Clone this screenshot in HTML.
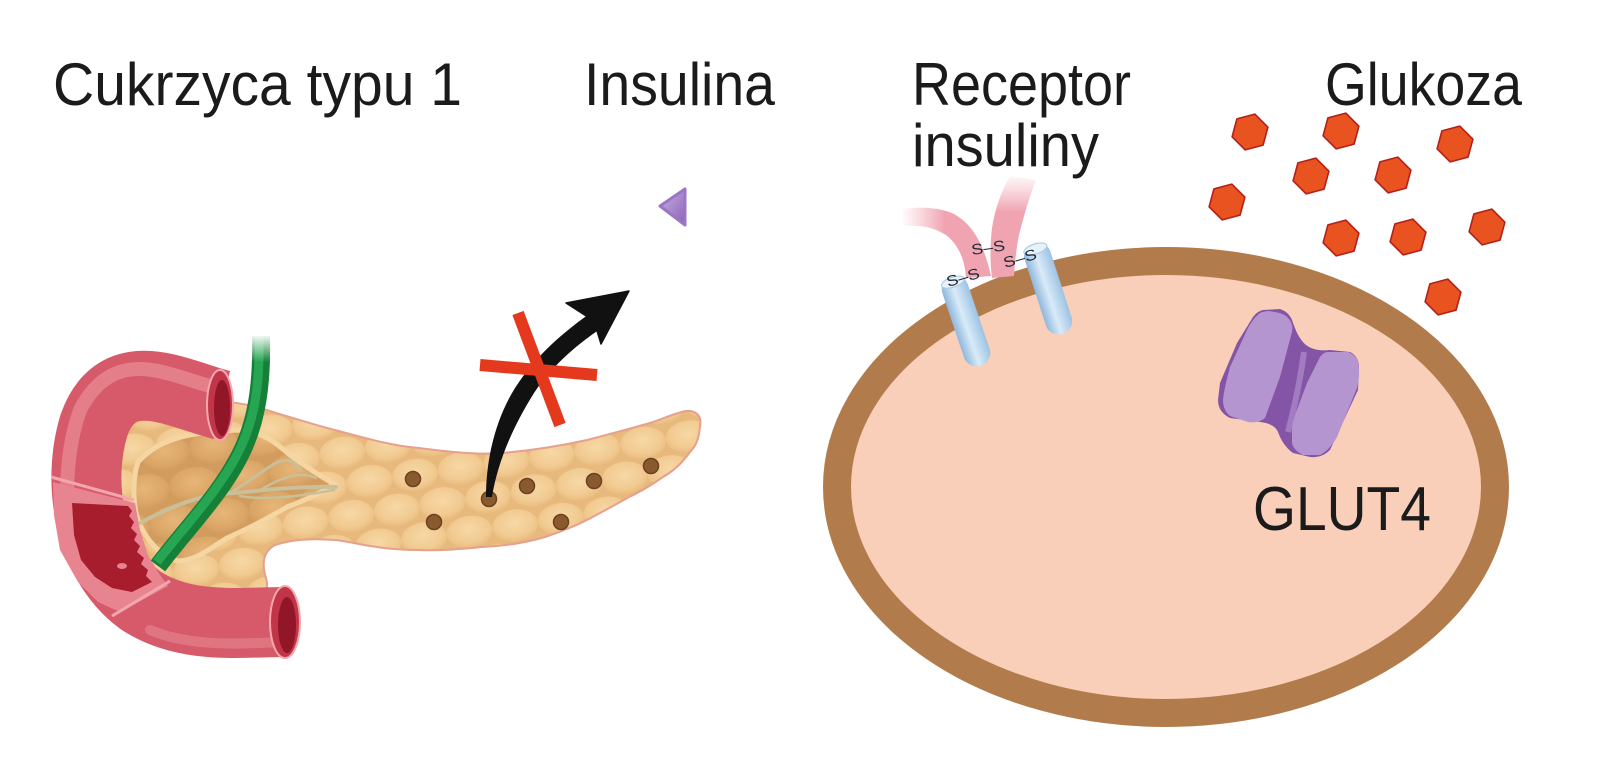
<!DOCTYPE html>
<html><head><meta charset="utf-8"><style>
html,body{margin:0;padding:0;background:#fff;}
svg{display:block;}
text{font-family:"Liberation Sans",sans-serif;fill:#1b1b1b;}
</style></head><body>
<svg width="1600" height="768" viewBox="0 0 1600 768" xmlns="http://www.w3.org/2000/svg">
<defs>
  <radialGradient id="lob" cx="50%" cy="42%" r="60%">
    <stop offset="0" stop-color="#f7d8a5"/>
    <stop offset="0.7" stop-color="#f1ca91"/>
    <stop offset="1" stop-color="#e9bb7e"/>
  </radialGradient>
  <pattern id="lobp" width="46" height="64" patternUnits="userSpaceOnUse" patternTransform="rotate(-8)">
    <rect width="46" height="64" fill="#e8b97c"/>
    <ellipse cx="23" cy="16" rx="23" ry="16" fill="url(#lob)"/>
    <ellipse cx="0" cy="48" rx="23" ry="16" fill="url(#lob)"/>
    <ellipse cx="46" cy="48" rx="23" ry="16" fill="url(#lob)"/>
  </pattern>
  <radialGradient id="lob2" cx="50%" cy="42%" r="60%">
    <stop offset="0" stop-color="#e6b678"/>
    <stop offset="0.7" stop-color="#dba667"/>
    <stop offset="1" stop-color="#cf9a5c"/>
  </radialGradient>
  <pattern id="lobp2" width="50" height="70" patternUnits="userSpaceOnUse" patternTransform="rotate(-8)">
    <rect width="50" height="70" fill="#d29c5e"/>
    <ellipse cx="25" cy="17" rx="25" ry="17.5" fill="url(#lob2)"/>
    <ellipse cx="0" cy="52" rx="25" ry="17.5" fill="url(#lob2)"/>
    <ellipse cx="50" cy="52" rx="25" ry="17.5" fill="url(#lob2)"/>
  </pattern>
  <clipPath id="pclip">
    <path id="pp" d="M 225 402 C 245 403, 262 408, 276 413 C 300 420, 318 426, 335 430 C 365 438, 392 446, 419 448 C 450 452, 478 455, 503 453 C 535 450, 560 446, 587 440 C 610 434, 632 428, 650 423 C 665 418, 675 413, 686 411 C 696 410, 702 416, 700 426 C 699 437, 697 445, 690 452 C 680 466, 670 473, 663 477 C 650 486, 640 492, 629 497 C 615 505, 600 513, 587 520 C 573 527, 560 532, 545 537 C 525 543, 505 546, 482 547 C 460 549, 440 551, 419 550 C 400 550, 390 549, 377 547 C 360 545, 348 541, 335 540 C 310 538, 290 540, 275 545 C 262 552, 262 565, 266 578 C 270 592, 262 604, 240 604 C 200 604, 150 596, 120 562 C 95 530, 95 460, 115 425 C 140 395, 200 400, 225 402 Z"/>
  </clipPath>
  <linearGradient id="cyl" x1="0" y1="0" x2="1" y2="0">
    <stop offset="0" stop-color="#8fb7dc"/>
    <stop offset="0.45" stop-color="#d9ebf8"/>
    <stop offset="1" stop-color="#9cc2e3"/>
  </linearGradient>
  <linearGradient id="armL" gradientUnits="userSpaceOnUse" x1="900" y1="0" x2="945" y2="0">
    <stop offset="0" stop-color="#f4b4bf" stop-opacity="0"/>
    <stop offset="1" stop-color="#f0a3b0"/>
  </linearGradient>
  <linearGradient id="armR" gradientUnits="userSpaceOnUse" x1="0" y1="172" x2="0" y2="212">
    <stop offset="0" stop-color="#f4b4bf" stop-opacity="0"/>
    <stop offset="1" stop-color="#f0a3b0"/>
  </linearGradient>
  <linearGradient id="tri" x1="0" y1="0" x2="1" y2="1">
    <stop offset="0" stop-color="#c8afe4"/>
    <stop offset="1" stop-color="#8c63b8"/>
  </linearGradient>
  <linearGradient id="gfade" gradientUnits="userSpaceOnUse" x1="0" y1="334" x2="0" y2="362">
    <stop offset="0" stop-color="#fff" stop-opacity="1"/>
    <stop offset="1" stop-color="#fff" stop-opacity="0"/>
  </linearGradient>
  <polygon id="hx" points="4.8,-17.9 17.9,-4.8 13.1,13.1 -4.8,17.9 -17.9,4.8 -13.1,-13.1" fill="#e8531f" stroke="#b41f1a" stroke-width="1.6" stroke-linejoin="round"/>
</defs>

<!-- Titles -->
<text x="53" y="105" font-size="60" textLength="409" lengthAdjust="spacingAndGlyphs">Cukrzyca typu 1</text>
<text x="584" y="105" font-size="60" textLength="191" lengthAdjust="spacingAndGlyphs">Insulina</text>
<text x="912" y="105" font-size="60" textLength="219" lengthAdjust="spacingAndGlyphs">Receptor</text>
<text x="912" y="166" font-size="60" textLength="187" lengthAdjust="spacingAndGlyphs">insuliny</text>
<text x="1325" y="105" font-size="60" textLength="197" lengthAdjust="spacingAndGlyphs">Glukoza</text>

<!-- Insulin triangle -->
<path d="M 660 206 L 685 189 L 685 225 Z" fill="url(#tri)" stroke="#9b76c4" stroke-width="3" stroke-linejoin="round"/>

<!-- Pancreas -->
<use href="#pp" fill="#efc388"/>
<g clip-path="url(#pclip)">
  <rect x="90" y="390" width="630" height="230" fill="url(#lobp)"/>
  <!-- head cavity -->
  <path d="M 138 462 C 158 440, 185 432, 240 430 C 262 432, 275 442, 290 455 C 305 466, 320 476, 334 484 C 318 495, 300 502, 287 507 C 265 520, 245 530, 227 538 C 210 548, 198 560, 178 561 C 160 556, 146 540, 138 520 C 133 505, 132 480, 138 462 Z" fill="url(#lobp2)" stroke="#f5d6a3" stroke-width="5"/>
</g>
<use href="#pp" fill="none" stroke="#e6a08d" stroke-width="2"/>

<!-- tan vessel -->
<g fill="none" stroke="#c9bf98" stroke-width="4" stroke-linecap="round">
  <path d="M 140 523 C 170 507, 200 494, 235 493 C 265 490, 300 486, 336 487"/>
  <path d="M 228 494 C 250 482, 262 470, 278 462 C 288 458, 296 462, 300 470" stroke-width="3"/>
  <path d="M 262 489 C 280 478, 300 470, 316 478" stroke-width="2.5"/>
  <path d="M 240 496 C 262 500, 290 498, 334 490" stroke-width="2.5"/>
</g>

<!-- Duodenum -->
<path d="M 222 405 C 180 395, 118 358, 94 425 C 77 480, 87 560, 140 600 C 185 630, 240 622, 285 622" fill="none" stroke="#d65a69" stroke-width="70"/>
<path d="M 210 386 C 170 376, 115 343, 80 410 C 66 450, 64 500, 72 530" fill="none" stroke="#ea8d97" stroke-width="14" stroke-linecap="round" opacity="0.7"/>
<path d="M 150 630 C 190 647, 240 644, 280 642" fill="none" stroke="#ea8d97" stroke-width="10" stroke-linecap="round" opacity="0.55"/>
<!-- cut section -->
<path d="M 53 482 L 135 503 L 140 530 L 148 555 L 160 575 L 168 586 L 120 612 L 98 602 L 78 582 L 60 550 L 54 515 Z" fill="#e8848f"/>
<path d="M 72 503 L 128 506 L 132 511 L 129 516 L 134 522 L 131 528 L 137 534 L 134 540 L 140 546 L 137 552 L 144 558 L 141 564 L 148 570 L 146 576 L 152 582 L 132 592 L 112 588 L 95 577 L 81 560 L 74 535 Z" fill="#a81d2e"/>
<ellipse cx="122" cy="566" rx="5" ry="3" fill="#e8848f"/>
<path d="M 51 477 L 134 500" stroke="#f2a7ae" stroke-width="3" fill="none"/>
<path d="M 112 616 L 170 581" stroke="#f2a7ae" stroke-width="3" fill="none"/>
<!-- openings -->
<ellipse cx="220" cy="405" rx="13" ry="35" fill="#c23448" stroke="#f2a8ae" stroke-width="2"/>
<ellipse cx="222" cy="408" rx="8" ry="28" fill="#901628"/>
<ellipse cx="285" cy="622" rx="15" ry="36" fill="#c23448" stroke="#f2a8ae" stroke-width="2"/>
<ellipse cx="287" cy="625" rx="9" ry="28" fill="#901628"/>

<!-- green duct -->
<path d="M 261 336 C 262 380, 258 420, 240 455 C 220 495, 185 530, 158 566" fill="none" stroke="#168038" stroke-width="18"/>
<path d="M 259 336 C 260 380, 256 418, 238 453 C 218 492, 184 527, 157 562" fill="none" stroke="#26a653" stroke-width="9"/>
<rect x="245" y="330" width="32" height="34" fill="url(#gfade)"/>

<!-- brown dots -->
<g fill="#8a5a2f" stroke="#6b421f" stroke-width="1.5">
  <circle cx="413" cy="479" r="7.5"/>
  <circle cx="434" cy="522" r="7.5"/>
  <circle cx="489" cy="499" r="7.5"/>
  <circle cx="527" cy="486" r="7.5"/>
  <circle cx="561" cy="522" r="7.5"/>
  <circle cx="594" cy="481" r="7.5"/>
  <circle cx="651" cy="466" r="7.5"/>
</g>

<!-- black arrow -->
<path d="M 486 497 C 486 460, 495 420, 515 388 C 535 357, 560 335, 589 314 L 600 329 C 575 346, 551 367, 534 393 C 514 425, 498 460, 492 497 Z" fill="#111"/>
<path d="M 629 291 L 566 303 L 594 321 L 601 344 Z" fill="#111" stroke="#111" stroke-width="1.5" stroke-linejoin="round"/>

<!-- red X -->
<g stroke="#e4391d" stroke-width="12" fill="none">
  <path d="M 480 365 L 597 375"/>
  <path d="M 518 313 L 560 425"/>
</g>

<!-- Cell -->
<ellipse cx="1166" cy="487" rx="329" ry="226" fill="#f9cfb9" stroke="#b27b4b" stroke-width="28"/>

<!-- receptor cylinders -->
<g transform="translate(966 321) rotate(-18.6)">
  <rect x="-13.5" y="-47" width="27" height="94" rx="13" fill="url(#cyl)"/>
  <ellipse cx="0" cy="-41" rx="12" ry="5" fill="#e6f1fa" stroke="#a8c8e3" stroke-width="1"/>
</g>
<g transform="translate(1048 288) rotate(-17.9)">
  <rect x="-13.5" y="-47" width="27" height="95" rx="13" fill="url(#cyl)"/>
  <ellipse cx="0" cy="-41" rx="12" ry="5" fill="#e6f1fa" stroke="#a8c8e3" stroke-width="1"/>
</g>

<!-- pink arms -->
<path d="M 903 209 C 920 206, 940 208, 952 213 C 970 222, 983 240, 991 276 L 966 278 C 965 262, 960 246, 946 235 C 932 226, 918 225, 903 226 Z" fill="url(#armL)"/>
<path d="M 1010 176 L 1036 180 C 1030 195, 1024 215, 1019 235 C 1016 250, 1015 262, 1014 276 L 992 278 C 990 262, 990 245, 992 228 C 995 208, 1002 190, 1010 176 Z" fill="url(#armR)"/>

<!-- S-S labels -->
<g font-size="15">
  <text x="972" y="255" transform="rotate(-8 972 255)" textLength="34" lengthAdjust="spacingAndGlyphs" style="fill:#222a36">S–S</text>
  <text x="1005" y="268" transform="rotate(-16 1005 268)" textLength="34" lengthAdjust="spacingAndGlyphs" style="fill:#222a36">S–S</text>
  <text x="948" y="287" transform="rotate(-16 948 287)" textLength="34" lengthAdjust="spacingAndGlyphs" style="fill:#222a36">S–S</text>
</g>

<!-- GLUT4 transporter -->
<path d="M 1263 310 L 1280 309 C 1286 311, 1290 315, 1292 320 C 1296 332, 1300 340, 1306 345 C 1313 350, 1320 351, 1330 350 L 1350 352 C 1356 355, 1359 360, 1359 368 L 1358 390 L 1330 450 C 1325 455, 1318 458, 1310 457 L 1293 453 C 1285 447, 1281 440, 1278 432 C 1276 427, 1270 423, 1260 422 L 1230 418 C 1222 414, 1218 408, 1218 400 L 1220 383 L 1237 343 L 1253 317 C 1256 313, 1259 311, 1263 310 Z" fill="#8454a6"/>
<path d="M 1268 311 C 1278 312, 1285 314, 1288 318 C 1292 322, 1293 327, 1292 332 L 1280 377 L 1265 418 C 1260 422, 1254 423, 1248 422 L 1230 416 C 1225 412, 1223 406, 1223 400 C 1224 390, 1227 378, 1230 367 L 1247 330 C 1251 322, 1256 315, 1262 312 Z" fill="#b495cf"/>
<path d="M 1328 352 L 1348 352 C 1353 354, 1357 357, 1358 362 C 1360 372, 1359 380, 1357 388 L 1337 437 C 1332 446, 1326 452, 1320 455 L 1303 455 C 1297 452, 1293 448, 1292 443 L 1292 423 L 1307 383 L 1320 357 C 1322 354, 1325 352, 1328 352 Z" fill="#b495cf"/>
<path d="M 1304 352 C 1301 375, 1295 405, 1288 432" fill="none" stroke="#a883c6" stroke-width="6" opacity="0.85"/>

<text x="1253" y="530" font-size="62" textLength="178" lengthAdjust="spacingAndGlyphs">GLUT4</text>

<!-- glucose hexagons -->
<use href="#hx" x="1250" y="132"/>
<use href="#hx" x="1341" y="131"/>
<use href="#hx" x="1455" y="144"/>
<use href="#hx" x="1311" y="176"/>
<use href="#hx" x="1393" y="175"/>
<use href="#hx" x="1227" y="202"/>
<use href="#hx" x="1341" y="238"/>
<use href="#hx" x="1408" y="237"/>
<use href="#hx" x="1487" y="227"/>
<use href="#hx" x="1443" y="297"/>
</svg>
</body></html>
